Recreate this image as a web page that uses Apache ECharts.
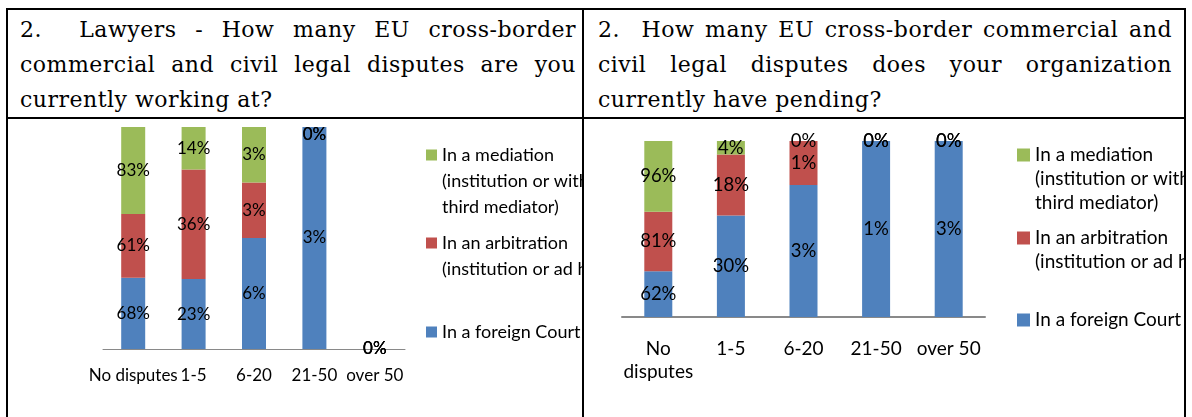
<!DOCTYPE html>
<html><head><meta charset="utf-8">
<script src="https://cdn.jsdelivr.net/npm/echarts@6/dist/echarts.min.js"></script>
<style>
html,body{margin:0;padding:0;background:#fff;width:1192px;height:417px;overflow:hidden;position:relative}
.line{position:absolute;background:#000}
.hdr{position:absolute;font-family:"DejaVu Serif",serif;font-size:22px;letter-spacing:0.5px;line-height:35px;color:#000}
.hdr div{white-space:nowrap;text-align:justify;text-align-last:justify}
.hdr div.last{text-align:left;text-align-last:left}
.chart{position:absolute}
</style></head><body>
<div class="line" style="left:6px;top:8px;width:2px;height:409px"></div>
<div class="line" style="left:582px;top:8px;width:2px;height:409px"></div>
<div class="line" style="left:1184px;top:8px;width:2px;height:409px"></div>
<div class="line" style="left:6px;top:8px;width:1180px;height:2px"></div>
<div class="line" style="left:6px;top:117px;width:1180px;height:2px"></div>
<div class="hdr" id="h1" style="left:20px;top:12px;width:556px"></div>
<div class="hdr" id="h2" style="left:598px;top:12px;width:574px"></div>
<div class="chart" id="c1" style="left:8px;top:120px;width:574px;height:297px"></div>
<div class="chart" id="c2" style="left:584px;top:120px;width:600px;height:297px"></div>
<script>
// Header texts
const headerLeft = ['2.\u00a0 Lawyers - How many EU cross-border', 'commercial and civil legal disputes are you', 'currently working at?'];
const headerRight = ['2.\u00a0 How many EU cross-border commercial and', 'civil legal disputes does your organization', 'currently have pending?'];

// Left chart data (lawyers)
const categoriesLeft = ['No disputes', '1-5', '6-20', '21-50', 'over 50'];
const courtLeft = [68, 23, 6, 3, 0];
const arbitrationLeft = [61, 36, 3, 0, 0];
const mediationLeft = [83, 14, 3, 0, 0];

// Right chart data (organizations)
const categoriesRight = ['No\ndisputes', '1-5', '6-20', '21-50', 'over 50'];
const courtRight = [62, 30, 3, 1, 3];
const arbitrationRight = [81, 18, 1, 0, 0];
const mediationRight = [96, 4, 0, 0, 0];

const seriesNames = ['In a foreign Court', 'In an arbitration (institution or ad hoc)', 'In a mediation (institution or with third mediator)'];
const legendLabels = ['In a foreign Court', 'In an arbitration\n(institution or ad hoc)', 'In a mediation\n(institution or with\nthird mediator)'];
const colors = ['#4F81BD', '#C0504D', '#9BBB59'];

function fillHeader(id, lines) {
  const el = document.getElementById(id);
  lines.forEach((t, i) => {
    const d = document.createElement('div');
    d.textContent = t;
    if (i === lines.length - 1) d.className = 'last';
    el.appendChild(d);
  });
}
fillHeader('h1', headerLeft);
fillHeader('h2', headerRight);

const FONT = 'Lato';

function build(id, cats, sets, cfg) {
  const totals = cats.map((c, j) => sets.reduce((s, arr) => s + arr[j], 0));
  const series = sets.map((arr, i) => ({
    type: 'bar',
    name: seriesNames[i],
    stack: 'all',
    barWidth: cfg.barWidth,
    data: arr.map((v, j) => {
      const item = { value: totals[j] ? v / totals[j] * 100 : 0 };
      if (v === 0 && totals[j] > 0 && cfg.zeroOffset) item.label = { offset: [0, cfg.zeroOffset] };
      return item;
    }),
    itemStyle: { color: colors[i] },
    label: {
      show: true, position: 'inside', color: '#000',
      fontFamily: FONT, fontSize: cfg.labelSize,
      formatter: p => arr[p.dataIndex] + '%'
    }
  }));
  const legends = [2, 1, 0].map((i, k) => {
    const lines = legendLabels[i].split('\n');
    const n = lines.length;
    const total = (2 * n - 1) * cfg.lh;
    const text = '\n'.repeat(n - 1) + legendLabels[i];
    return {
      data: [seriesNames[i]], orient: 'vertical', icon: 'rect',
      left: cfg.legendLeft, top: cfg.legendCenters[k] - total / 2,
      padding: 0, itemGap: 0, selectedMode: false,
      itemWidth: cfg.icon, itemHeight: cfg.icon,
      formatter: () => text,
      textStyle: { fontFamily: FONT, fontSize: cfg.legendSize, lineHeight: cfg.lh, color: '#000' }
    };
  });
  const chart = echarts.init(document.getElementById(id), null, { renderer: 'canvas' });
  chart.setOption({
    animation: false,
    grid: { left: cfg.grid[0], top: cfg.grid[1], width: cfg.grid[2], height: cfg.grid[3] },
    legend: legends,
    xAxis: {
      type: 'category', data: cats,
      axisLine: { lineStyle: { color: '#898989', width: cfg.axisWidth } },
      axisTick: { length: cfg.tick, lineStyle: { color: '#898989', width: cfg.axisWidth } },
      axisLabel: { interval: 0, color: '#000', fontFamily: FONT, fontSize: cfg.axisSize, lineHeight: cfg.axisLh, margin: cfg.margin }
    },
    yAxis: { type: 'value', min: 0, max: 100, show: false },
    series: series
  });
}

build('c1', categoriesLeft, [courtLeft, arbitrationLeft, mediationLeft], {
  grid: [95, 7, 302, 222], barWidth: 24, labelSize: 17, legendLeft: 418,
  legendCenters: [35, 123, 212], lh: 26, icon: 11, legendSize: 18,
  axisWidth: 1, tick: 6, axisSize: 17, axisLh: 20, margin: 17, zeroOffset: 8
});
build('c2', categoriesRight, [courtRight, arbitrationRight, mediationRight], {
  grid: [38, 21, 363, 176], barWidth: 28, labelSize: 18.5, legendLeft: 433,
  legendCenters: [35, 118, 200], lh: 24, icon: 13, legendSize: 19,
  axisWidth: 2, tick: 7, axisSize: 19, axisLh: 23, margin: 20, zeroOffset: 0
});
</script>
</body></html>
